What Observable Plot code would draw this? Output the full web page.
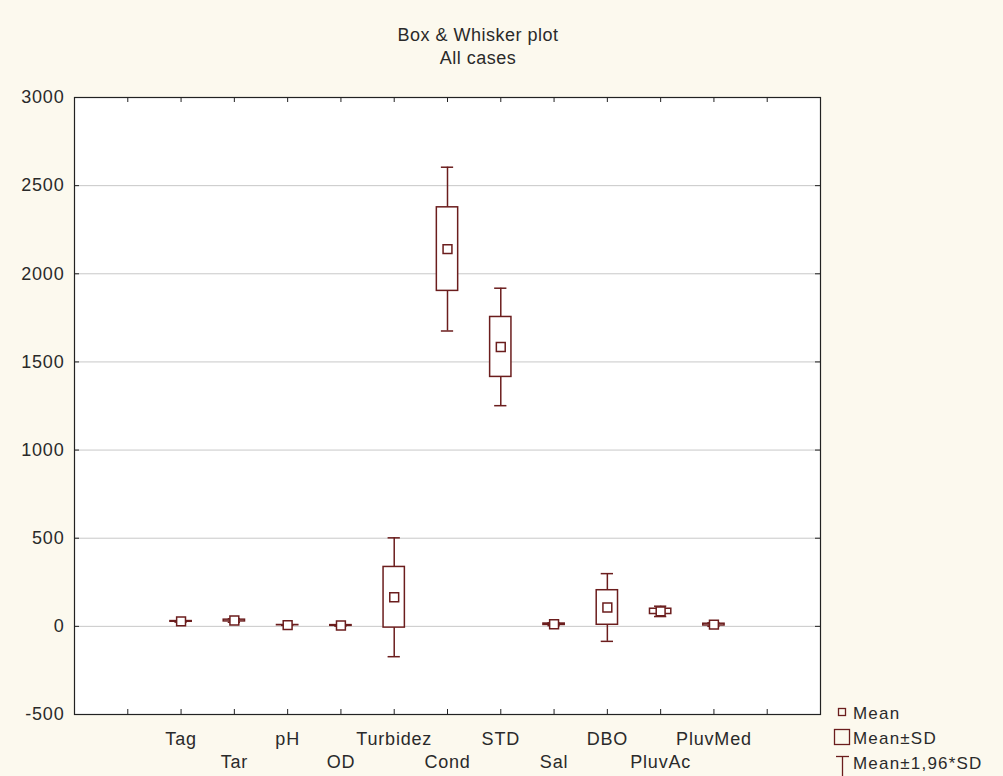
<!DOCTYPE html>
<html><head><meta charset="utf-8">
<script src="https://cdn.jsdelivr.net/npm/d3@7"></script>
<script src="https://cdn.jsdelivr.net/npm/@observablehq/plot@0.6"></script>
<style>body{margin:0;background:#fcf9ee;} svg{display:block}</style>
</head><body><div id="chart"></div>
<script>
const categories = ["Tag","Tar","pH","OD","Turbidez","Cond","STD","Sal","DBO","PluvAc","PluvMed"];
const means = [28, 33, 7, 5, 165, 2140, 1585, 12, 107, 85, 10];
const sds   = [2, 5, 0.6, 2, 172, 237, 170, 4, 98, 15, 5];
const yTicks = [-500, 0, 500, 1000, 1500, 2000, 2500, 3000];
const slotTicks = [1,2,3,4,5,6,7,8,9,10,11,12,13];
const legendLabels = ["Mean", "Mean±SD", "Mean±1,96*SD"];

const col = "#6b1d1d";
const txt = "#2a2a2a";
const data = categories.map((c, k) => ({
  cat: c, pos: k + 2, row: k % 2,
  mean: means[k], sd: sds[k],
  lo: means[k] - 1.96 * sds[k], hi: means[k] + 1.96 * sds[k]
}));

const W = 1003, H = 776;
const mL = 74, mR = 183, mT = 97, mB = 62;
const pxX = (W - mL - mR) / 14;           // px per slot
const pxY = (H - mT - mB) / 3500;         // px per unit
const tx = 5 / pxX, ty = 5 / pxY;         // 5px tick length in data units

const plot = Plot.plot({
  width: W, height: H,
  marginLeft: mL, marginRight: mR, marginTop: mT, marginBottom: mB,
  style: {fontFamily: "'Liberation Sans', Arial, sans-serif", fontSize: "18px", background: "transparent", overflow: "visible"},
  x: {domain: [0, 14], axis: null},
  y: {domain: [-500, 3000], axis: null},
  marks: [
    Plot.frame({fill: "white"}),
    Plot.gridY(yTicks, {stroke: "#c8c8c8", strokeOpacity: 1}),
    Plot.axisY({ticks: yTicks, tickSize: 0, tickPadding: 10, fontSize: 18, fill: txt, tickFormat: d => String(d)}),
    // inward ticks
    Plot.ruleY(yTicks, {y: d => d, x1: 0, x2: tx, stroke: "#222"}),
    Plot.ruleY(yTicks, {y: d => d, x1: 14 - tx, x2: 14, stroke: "#222"}),
    Plot.ruleX(slotTicks, {x: d => d, y1: -500, y2: -500 + ty, stroke: "#222"}),
    Plot.ruleX(slotTicks, {x: d => d, y1: 3000 - ty, y2: 3000, stroke: "#222"}),
    // whiskers
    Plot.ruleX(data, {x: "pos", y1: "lo", y2: "hi", stroke: col, strokeWidth: 1.5}),
    Plot.ruleY(data, {y: "lo", x1: d => d.pos - 0.115, x2: d => d.pos + 0.115, stroke: col, strokeWidth: 1.5}),
    Plot.ruleY(data, {y: "hi", x1: d => d.pos - 0.115, x2: d => d.pos + 0.115, stroke: col, strokeWidth: 1.5}),
    // SD box
    Plot.rect(data, {x1: d => d.pos - 0.2, x2: d => d.pos + 0.2, y1: d => d.mean - d.sd, y2: d => d.mean + d.sd, fill: "white", stroke: col, strokeWidth: 1.5}),
    // mean
    Plot.dot(data, {x: "pos", y: "mean", symbol: "square", r: 5, fill: "white", stroke: col, strokeWidth: 1.5}),
    Plot.frame({stroke: "#222", strokeWidth: 1.2}),
    // category labels in two rows
    Plot.text(data.filter(d => d.row === 0), {x: "pos", text: "cat", frameAnchor: "bottom", dy: 30, fill: txt, fontSize: 18}),
    Plot.text(data.filter(d => d.row === 1), {x: "pos", text: "cat", frameAnchor: "bottom", dy: 53, fill: txt, fontSize: 18})
  ]
});

const svg = d3.select(plot);
svg.selectAll("text").attr("letter-spacing", 0.8);
svg.append("text").attr("x", 478).attr("y", 41).attr("text-anchor", "middle").attr("letter-spacing", 0.5)
  .attr("font-size", 18).attr("fill", txt).text("Box & Whisker plot");
svg.append("text").attr("x", 478).attr("y", 64).attr("text-anchor", "middle").attr("letter-spacing", 0.5)
  .attr("font-size", 18).attr("fill", txt).text("All cases");

const lg = svg.append("g").attr("fill", "none").attr("stroke", col).attr("stroke-width", 1.3);
lg.append("rect").attr("x", 838.5).attr("y", 708.5).attr("width", 7).attr("height", 7);
lg.append("rect").attr("x", 834.5).attr("y", 729.5).attr("width", 15).attr("height", 15);
lg.append("line").attr("x1", 836).attr("x2", 849).attr("y1", 756.5).attr("y2", 756.5);
lg.append("line").attr("x1", 842.5).attr("x2", 842.5).attr("y1", 756.5).attr("y2", 776);
legendLabels.forEach((t, k) => {
  svg.append("text").attr("x", 853).attr("y", 719 + k * 25).attr("font-size", 17)
    .attr("text-anchor", "start").attr("letter-spacing", 1.2)
    .attr("fill", txt).text(t);
});

document.getElementById("chart").appendChild(plot);
</script></body></html>
